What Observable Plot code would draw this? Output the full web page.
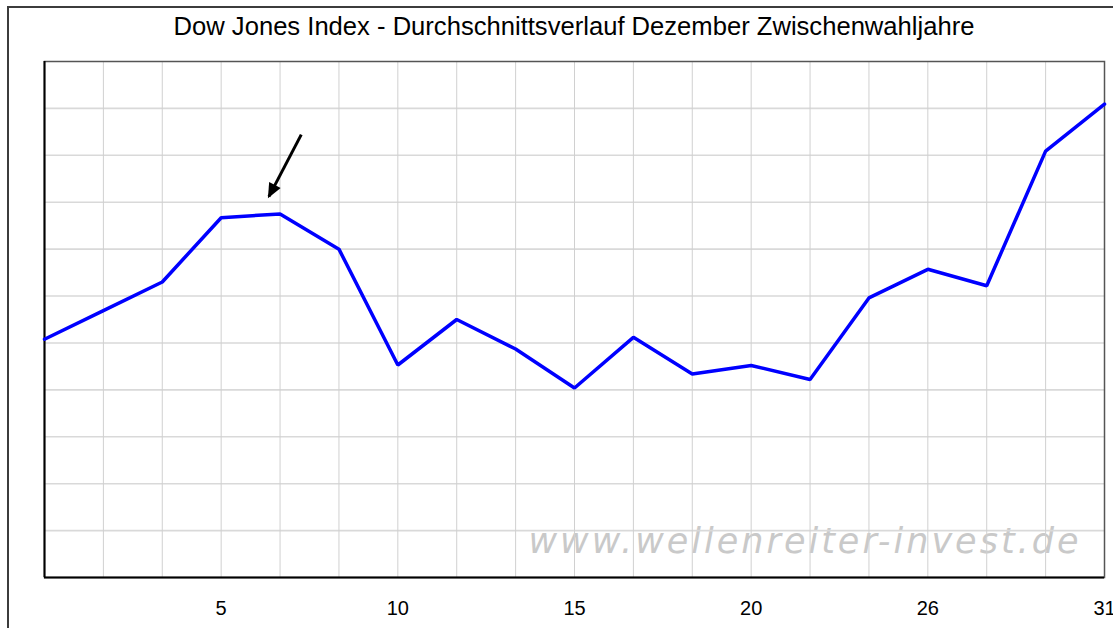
<!DOCTYPE html>
<html>
<head>
<meta charset="utf-8">
<script src="https://cdn.jsdelivr.net/npm/d3@7"></script>
<script src="https://cdn.jsdelivr.net/npm/@observablehq/plot@0.6"></script>
<style>
  html, body { margin: 0; padding: 0; background: #fff; }
  #page { position: relative; width: 1113px; height: 628px; overflow: hidden; font-family: "Liberation Sans", Arial, sans-serif; }
  #outer { position: absolute; left: 7px; top: 6px; width: 1200px; height: 800px; border: 2px solid #3c3c3c; box-sizing: border-box; pointer-events: none; }
  #title { position: absolute; left: 44px; width: 1060px; top: 14px; text-align: center; font-size: 25.6px; line-height: 1; color: #000; white-space: nowrap; }
  #chart { position: absolute; left: 0; top: 51px; }
  .wm text { letter-spacing: 3px; }
</style>
</head>
<body>
<div id="page">
  <div id="outer"></div>
  <div id="title">Dow Jones Index - Durchschnittsverlauf Dezember Zwischenwahljahre</div>
  <div id="chart"></div>
</div>
<script>
// Average index course (relative units), one value per trading day shown
const values = [5.08, 5.69, 6.30, 7.67, 7.75, 7.00, 4.53, 5.50, 4.87, 4.04, 5.12, 4.34, 4.52, 4.22, 5.96, 6.57, 6.22, 9.09, 10.09];
// Tick positions (index of trading day) and their labels (day of December)
const tickPositions = [3, 6, 9, 12, 15, 18];
const tickLabels = ["5", "10", "15", "20", "26", "31"];
// Horizontal grid levels (relative units)
const gridLevels = [1, 2, 3, 4, 5, 6, 7, 8, 9, 10];
// Annotation arrow pointing at the early-December high (data units)
const arrowData = [{x1: 4.36, y1: 9.44, x2: 3.81, y2: 8.12}];
const watermark = ["www.wellenreiter-invest.de"];

const data = values.map((v, i) => ({i, v}));
const dayIndex = values.map((_, i) => i);
const labelOf = new Map(tickPositions.map((p, k) => [p, tickLabels[k]]));

function filledArrow(color) {
  const m = d3.create("svg:marker")
    .attr("viewBox", "-16 -7 18 14")
    .attr("markerWidth", 18)
    .attr("markerHeight", 14)
    .attr("markerUnits", "userSpaceOnUse")
    .attr("refX", -2)
    .attr("refY", 0)
    .attr("orient", "auto");
  m.append("path").attr("d", "M0,0L-15,-6.5L-15,6.5Z").attr("fill", color).attr("stroke", "none");
  return m.node();
}

const chart = Plot.plot({
  width: 1113,
  height: 577,
  marginTop: 10,
  marginBottom: 51,
  marginLeft: 44,
  marginRight: 9,
  style: {fontFamily: "'Liberation Sans', Arial, sans-serif", fontSize: "20px", color: "#000", background: "transparent"},
  x: {domain: [0, 18], ticks: tickPositions, tickFormat: d => labelOf.get(d) ?? "", tickSize: 0, tickPadding: 23, label: null},
  y: {domain: [0, 11], axis: null},
  marks: [
    Plot.text(watermark, {frameAnchor: "bottom-right", text: d => d, textAnchor: "end", lineAnchor: "bottom", dx: -23, dy: -25, fontSize: 35, fontFamily: "'DejaVu Sans', sans-serif", fontStyle: "italic", fill: "#c9c9c9", className: "wm"}),
    Plot.ruleY(gridLevels, {stroke: "#d9d9d9", strokeWidth: 1.6}),
    Plot.ruleX(dayIndex, {stroke: "#d0d0d0", strokeWidth: 1}),
    Plot.frame({stroke: "#555", strokeWidth: 1.5}),
    Plot.ruleX([0], {stroke: "#000", strokeWidth: 2}),
    Plot.ruleY([0], {stroke: "#000", strokeWidth: 2}),
    Plot.line(data, {x: "i", y: "v", stroke: "#0000ff", strokeWidth: 3.5, strokeLinejoin: "miter"}),
    Plot.link(arrowData, {x1: "x1", y1: "y1", x2: "x2", y2: "y2", stroke: "#000", strokeWidth: 3, markerEnd: filledArrow}),
    Plot.axisX({ticks: tickPositions, tickFormat: d => labelOf.get(d) ?? "", tickSize: 0, tickPadding: 23, fontSize: 20})
  ]
});
document.getElementById("chart").append(chart);
</script>
</body>
</html>
